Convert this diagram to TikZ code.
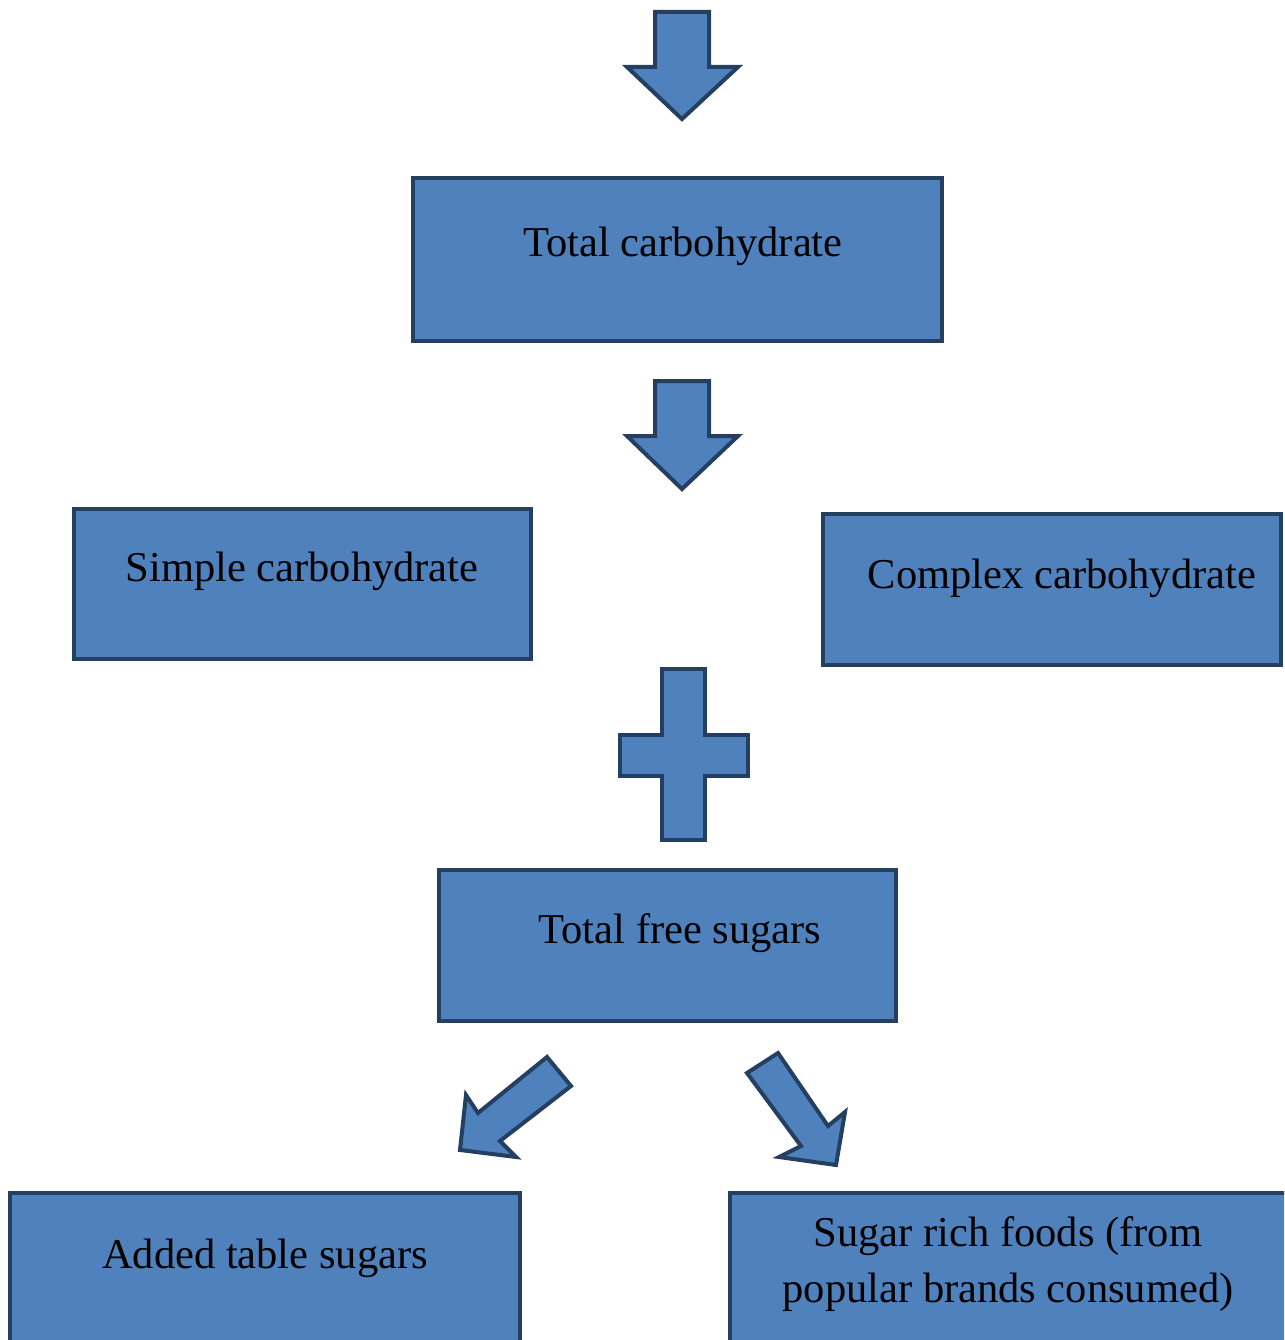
\documentclass[tikz,border=0pt]{standalone}
\usepackage{fontspec}
\setmainfont{Liberation Serif}
\definecolor{boxfill}{HTML}{4F81BD}
\definecolor{boxline}{HTML}{243F60}
\tikzset{
  blockbox/.style={draw=boxline, fill=boxfill, line width=4pt, rectangle, inner sep=0pt},
  blockshape/.style={draw=boxline, fill=boxfill, line width=4pt, line join=miter},
  lbl/.style={font=\fontsize{42.5}{56}\selectfont, text=black, align=center, inner sep=0pt}
}
\begin{document}
\begin{tikzpicture}[x=1pt,y=-1pt]
\useasboundingbox (0,0) rectangle (1284,1340);
\clip (0,0) rectangle (1284,1340);
% boxes
\node[blockbox, minimum width=529pt, minimum height=163pt] (total) at (677.5,259.5) {};
\node[lbl] (totalt) at (683,246.5) {Total carbohydrate};
\node[blockbox, minimum width=457pt, minimum height=150pt] (simple) at (302.5,584) {};
\node[lbl] (simplet) at (302,571.5) {Simple carbohydrate};
\node[blockbox, minimum width=458pt, minimum height=151pt] (complex) at (1052,589.5) {};
\node[lbl] (complext) at (1062,578.5) {Complex carbohydrate};
\node[blockbox, minimum width=457pt, minimum height=151pt] (free) at (667.5,945.5) {};
\node[lbl] (freet) at (680,933.5) {Total free sugars};
\node[blockbox, minimum width=510pt, minimum height=200pt] (added) at (265,1293) {};
\node[lbl] (addedt) at (265,1258.5) {Added table sugars};
\node[blockbox, minimum width=570pt, minimum height=200pt] (rich) at (1015,1293) {};
\node[lbl] (richt) at (1008,1264.5) {Sugar rich foods (from\\popular brands consumed)};
% down arrows
\draw[blockshape] (655,12) -- (709,12) -- (709,67) -- (738,67) -- (682,119) -- (627,67) -- (655,67) -- cycle;
\draw[blockshape] (655,381) -- (709,381) -- (709,436) -- (738,436) -- (682,489) -- (627,436) -- (655,436) -- cycle;
% plus
\draw[blockshape] (662,669) -- (705,669) -- (705,735) -- (748,735) -- (748,776) -- (705,776) -- (705,840) -- (662,840) -- (662,776) -- (620,776) -- (620,735) -- (662,735) -- cycle;
% diagonal arrows
\draw[blockshape] (547,1057) -- (571,1086) -- (500,1141) -- (516,1157) -- (460,1150) -- (466,1095) -- (478,1113) -- cycle;
\draw[blockshape] (747,1073) -- (778,1053) -- (828,1126) -- (845,1112) -- (836,1165) -- (779,1157) -- (801,1146) -- cycle;
\end{tikzpicture}
\end{document}
